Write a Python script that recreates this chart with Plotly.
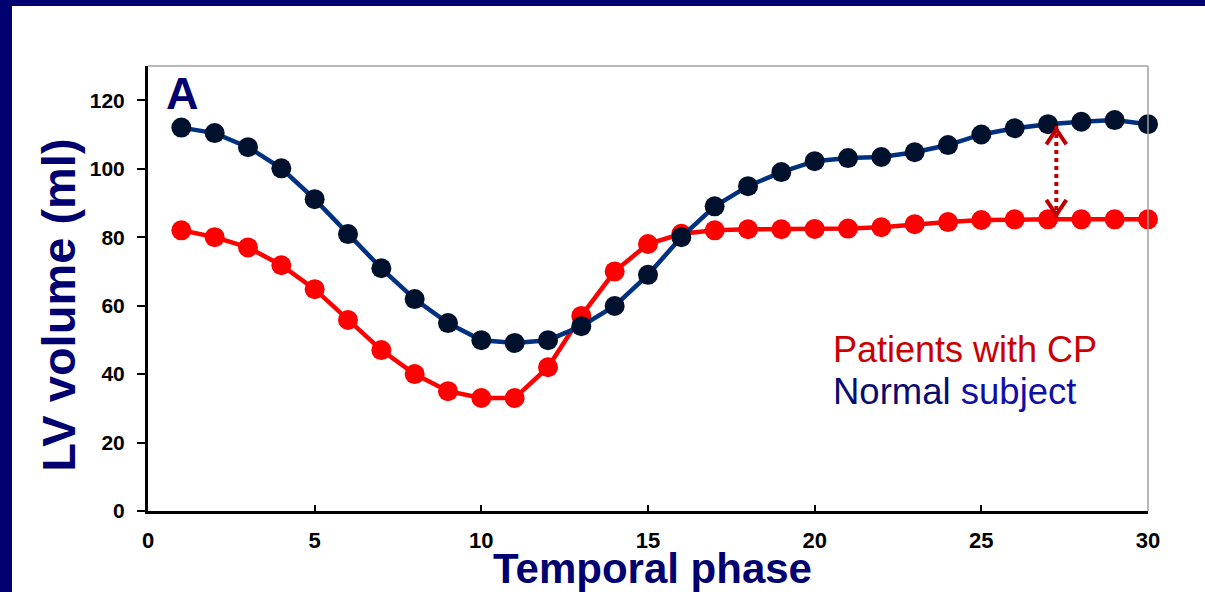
import plotly.graph_objects as go

# Temporal phases (frames of the cardiac cycle)
phase = list(range(1, 31))

# LV volume (ml) over the cycle
normal_subject = [112, 110.4, 106.3, 100.1, 91.1, 80.9, 70.9, 61.9, 54.9, 49.9,
                  49.1, 49.9, 54.0, 59.9, 69.0, 80.0, 89.0, 94.9, 99.0, 102.2,
                  103.1, 103.4, 104.8, 106.9, 110.0, 111.8, 113.0, 113.7, 114.2, 113.0]
patients_cp = [82.0, 80.0, 77.0, 71.8, 64.8, 55.8, 47.0, 40.0, 35.0, 33.0,
               33.0, 42.0, 57.0, 70.0, 78.0, 81.0, 82.0, 82.3, 82.3, 82.4,
               82.5, 82.9, 83.8, 84.4, 85.0, 85.2, 85.2, 85.2, 85.2, 85.2]

x_ticks = [0, 5, 10, 15, 20, 25, 30]
y_ticks = [0, 20, 40, 60, 80, 100, 120]

NAVY = "#000070"
RED = "#ff0000"
DARK_RED = "#c00000"
BOLD = "Liberation Sans, Arial, sans-serif"

fig = go.Figure()

fig.add_trace(go.Scatter(
    x=phase, y=patients_cp, mode="lines+markers", cliponaxis=False,
    line=dict(color=RED, width=4.5),
    marker=dict(color=RED, size=20, line=dict(width=0)),
    name="Patients with CP", showlegend=False))

fig.add_trace(go.Scatter(
    x=phase, y=normal_subject, mode="lines+markers", cliponaxis=False,
    line=dict(color="#003080", width=4.5),
    marker=dict(color="#00112e", size=20, line=dict(width=0)),
    name="Normal subject", showlegend=False))

# Double-headed dotted arrow marking the volume gap near the end of the cycle
idx = phase.index(27)
ax = phase[idx] + 0.25
top_tip = normal_subject[idx] - 1.5
bot_tip = patients_cp[idx] + 1.3
head_w, head_h = 0.3, 4.4
fig.add_trace(go.Scatter(
    x=[ax, ax], y=[top_tip + 1, bot_tip - 1], mode="lines", hoverinfo="skip",
    line=dict(color=DARK_RED, width=4, dash="dot"), showlegend=False))
fig.add_trace(go.Scatter(
    x=[ax - head_w, ax, ax + head_w], y=[top_tip - head_h, top_tip, top_tip - head_h],
    mode="lines", hoverinfo="skip", line=dict(color=DARK_RED, width=4), showlegend=False))
fig.add_trace(go.Scatter(
    x=[ax - head_w, ax, ax + head_w], y=[bot_tip + head_h, bot_tip, bot_tip + head_h],
    mode="lines", hoverinfo="skip", line=dict(color=DARK_RED, width=4), showlegend=False))

fig.update_xaxes(
    range=[0, 30], tickvals=x_ticks, ticks="inside", ticklen=6, tickwidth=2,
    tickcolor="black", showline=True, linewidth=3, linecolor="black",
    showgrid=False, zeroline=False, ticklabelstandoff=8,
    tickfont=dict(family=BOLD, size=22, color="black", weight="bold"))
fig.update_yaxes(
    range=[0, 130], tickvals=y_ticks, ticks="outside", ticklen=8, tickwidth=2,
    tickcolor="black", showline=True, linewidth=3, linecolor="black",
    showgrid=False, zeroline=False, ticklabelstandoff=8,
    tickfont=dict(family=BOLD, size=21, color="black", weight="bold"))

shapes = [
    # thin grey frame on the top and right of the plot area
    dict(type="line", xref="paper", yref="paper", x0=0, x1=1, y0=1, y1=1,
         line=dict(color="#a0a0a0", width=1.5)),
    dict(type="line", xref="paper", yref="paper", x0=1, x1=1, y0=0, y1=1,
         line=dict(color="#a0a0a0", width=1.5)),
    # slide border along the left and top edges
    dict(type="rect", xref="paper", yref="paper", x0=-0.2, x1=-0.136, y0=-0.3, y1=1.3,
         fillcolor=NAVY, line=dict(width=0), layer="above"),
    dict(type="rect", xref="paper", yref="paper", x0=-0.2, x1=1.2, y0=1.1348, y1=1.3,
         fillcolor=NAVY, line=dict(width=0), layer="above"),
]

annotations = [
    dict(text="<b>A</b>", x=0.016, y=0.938, xref="paper", yref="paper",
         xanchor="left", yanchor="middle", showarrow=False,
         font=dict(family=BOLD, size=45, color=NAVY)),
    dict(text="Patients with CP", x=0.683, y=0.364, xref="paper", yref="paper",
         xanchor="left", yanchor="middle", showarrow=False,
         font=dict(family="Liberation Sans, Arial, sans-serif", size=36, color="#cc0000")),
    dict(text="Normal <span style='color:#1010a8'>subject</span>", x=0.683, y=0.268,
         xref="paper", yref="paper", xanchor="left", yanchor="middle", showarrow=False,
         font=dict(family="Liberation Sans, Arial, sans-serif", size=36.5, color="#0a0a70")),
    dict(text="<b>LV volume (ml)</b>", x=-0.089, y=0.461, xref="paper", yref="paper",
         xanchor="center", yanchor="middle", textangle=-90, showarrow=False,
         font=dict(family=BOLD, size=47, color=NAVY)),
    dict(text="<b>Temporal phase</b>", x=0.5045, y=-0.13, xref="paper", yref="paper",
         xanchor="center", yanchor="middle", showarrow=False,
         font=dict(family=BOLD, size=42, color=NAVY)),
]

fig.update_layout(
    width=1205, height=592,
    margin=dict(l=148, r=57, t=66, b=81),
    paper_bgcolor="white", plot_bgcolor="white",
    shapes=shapes, annotations=annotations, showlegend=False)

fig.write_html("out.html")
